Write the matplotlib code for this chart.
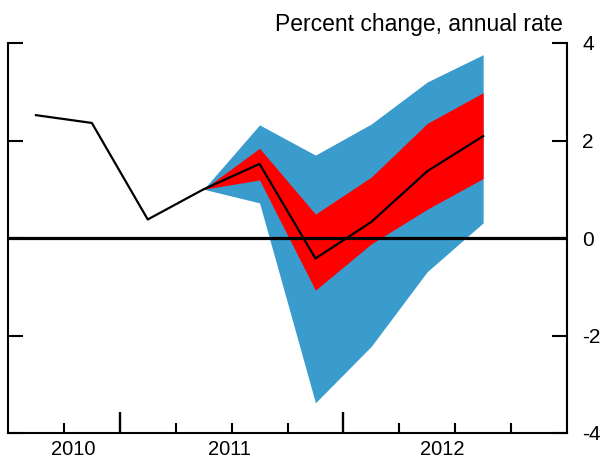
import matplotlib
matplotlib.use('Agg')
import matplotlib.pyplot as plt

plt.rcParams['font.family'] = ['Liberation Sans', 'DejaVu Sans']
plt.rcParams['axes.unicode_minus'] = False

# quarterly data, values
quarters = ['2010Q3', '2010Q4', '2011Q1', '2011Q2', '2011Q3',
            '2011Q4', '2012Q1', '2012Q2', '2012Q3']
growth = [2.52, 2.36, 0.38, 1.0, 1.52, -0.42, 0.33, 1.37, 2.09]

# fan starts at 2011Q2
fan_quarters = quarters[3:]
red_hi = [1.0, 1.84, 0.49, 1.25, 2.35, 2.98]
red_lo = [1.0, 1.19, -1.07, -0.12, 0.59, 1.22]
blue_hi = [1.0, 2.32, 1.70, 2.34, 3.20, 3.76]
blue_lo = [1.0, 0.72, -3.38, -2.22, -0.69, 0.31]

year_labels = ['2010', '2011', '2012']


def qpos(q):
    # centre of the quarter in fractional years
    return int(q[:4]) + (int(q[-1]) - 1) * 0.25 + 0.125


x = [qpos(q) for q in quarters]
xf = [qpos(q) for q in fan_quarters]

fig = plt.figure(figsize=(6, 4.58), dpi=100)
ax = fig.add_axes([8 / 600, 25 / 458, 559 / 600, 390 / 458])

ax.fill_between(xf, blue_lo, blue_hi, color='#3A9BCD', lw=0)
ax.fill_between(xf, red_lo, red_hi, color='#FF0000', lw=0)
ax.axhline(0, color='black', lw=2.3)
ax.plot(x, growth, color='black', lw=1.6)

ax.set_xlim(2010.5, 2013.0)
ax.set_ylim(-4, 4)

for s in ['left', 'right', 'bottom']:
    ax.spines[s].set_linewidth(1.5)
ax.spines['top'].set_visible(False)

# y ticks, labels on the right only
ax.set_yticks([-4, -2, 0, 2, 4])
ax.set_yticks([4], minor=True)
ax.tick_params(axis='y', which='major', direction='in', length=11, width=1.5,
               left=True, right=True, labelleft=False, labelright=True,
               labelsize=15, pad=11)
ax.tick_params(axis='y', which='minor', direction='in', length=17, width=1.5,
               left=True, right=True)

# x ticks: long at year boundaries, short at quarters
ax.set_xticks([2011, 2012])
ax.set_xticks([2010.75, 2011.25, 2011.5, 2011.75, 2012.25, 2012.5, 2012.75],
              minor=True)
ax.tick_params(axis='x', which='major', direction='in', length=15, width=1.7,
               labelbottom=False)
ax.tick_params(axis='x', which='minor', direction='in', length=7.5, width=1.5)

for lab, xp in zip(year_labels, [2010.79, 2011.49, 2012.44]):
    ax.text(xp, -0.018, lab, transform=ax.get_xaxis_transform(),
            ha='center', va='top', fontsize=14.5)

fig.text(563 / 600, (458 - 31.5) / 458, 'Percent change, annual rate',
         ha='right', va='baseline', fontsize=16.5)

fig.savefig('out.png', dpi=100)
